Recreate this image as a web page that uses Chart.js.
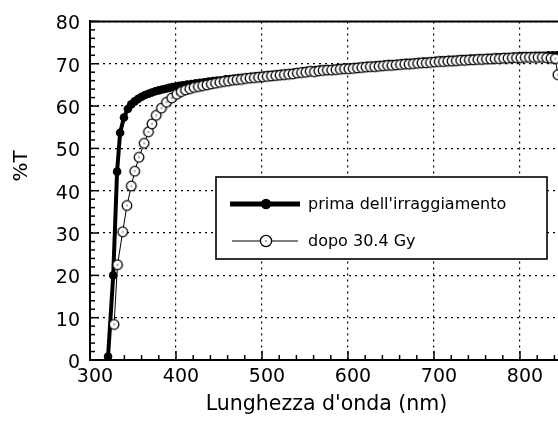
<!DOCTYPE html>
<html>
<head>
<meta charset="utf-8">
<script src="https://cdn.jsdelivr.net/npm/chart.js@4.4.1/dist/chart.umd.min.js"></script>
<style>
  html, body { margin: 0; padding: 0; background: #fff; overflow: hidden; }
  #wrap { width: 558px; height: 421px; overflow: hidden; }
</style>
</head>
<body>
<div id="wrap"><canvas id="spectrum" width="570" height="421"></canvas></div>
<script>
// axis ticks
const xTicks = [300, 400, 500, 600, 700, 800];
const yTicks = [0, 10, 20, 30, 40, 50, 60, 70, 80];
const seriesNames = ["prima dell'irraggiamento", "dopo 30.4 Gy"];

// transmittance before irradiation
const primaNm = [321, 327, 331.5, 335, 339.5, 344, 348, 352, 356, 360, 364, 368, 372, 376, 380, 384, 388, 392, 396, 400, 404, 408,
  413, 418, 423, 428, 433, 438, 443, 448, 453, 458, 463, 468, 473, 478, 483, 488, 493, 498,
  503, 508, 513, 518, 523, 528, 533, 538, 543, 548, 553, 558, 563, 568, 573, 578, 583, 588, 593, 598,
  603, 608, 613, 618, 623, 628, 633, 638, 643, 648, 653, 658, 663, 668, 673, 678, 683, 688, 693, 698,
  703, 708, 713, 718, 723, 728, 733, 738, 743, 748, 753, 758, 763, 768, 773, 778, 783, 788, 793, 798,
  803, 808, 813, 818, 823, 828, 833, 838, 843, 848];
const primaT = [0.8, 20, 44.5, 53.7, 57.3, 59.3, 60.4, 61.1, 61.7, 62.2, 62.6, 62.9, 63.2, 63.5, 63.7, 63.9, 64.1, 64.3, 64.5, 64.6, 64.8, 64.9,
  65.1, 65.2, 65.4, 65.5, 65.6, 65.8, 65.9, 66.0, 66.1, 66.3, 66.4, 66.5, 66.6, 66.7, 66.8, 66.9, 67.0, 67.1,
  67.2, 67.3, 67.4, 67.5, 67.6, 67.7, 67.8, 67.9, 68.0, 68.2, 68.3, 68.4, 68.5, 68.6, 68.7, 68.7, 68.8, 68.9, 69.0, 69.1,
  69.1, 69.2, 69.3, 69.4, 69.5, 69.5, 69.6, 69.7, 69.8, 69.9, 69.9, 70.0, 70.1, 70.2, 70.2, 70.3, 70.4, 70.5, 70.5, 70.6,
  70.7, 70.8, 70.8, 70.9, 70.9, 71.0, 71.1, 71.1, 71.2, 71.2, 71.3, 71.3, 71.4, 71.4, 71.5, 71.5, 71.6, 71.6, 71.7, 71.7,
  71.8, 71.8, 71.8, 71.9, 71.9, 71.9, 72.0, 72.0, 72.0, 72.1];

// transmittance after 30.4 Gy
const dopoNm = [328, 332, 338, 343, 348, 352, 357, 363, 368, 372, 377, 383, 389, 395, 401, 406,
  411, 416, 421, 426, 431, 436, 441, 446, 451, 456, 461, 466, 471, 476, 481, 486, 491, 496,
  501, 506, 511, 516, 521, 526, 531, 536, 541, 546, 551, 556, 561, 566, 571, 576, 581, 586, 591, 596,
  601, 606, 611, 616, 621, 626, 631, 636, 641, 646, 651, 656, 661, 666, 671, 676, 681, 686, 691, 696,
  701, 706, 711, 716, 721, 726, 731, 736, 741, 746, 751, 756, 761, 766, 771, 776, 781, 786, 791, 796,
  801, 806, 811, 816, 821, 826, 831, 836, 841, 844];
const dopoT = [8.4, 22.5, 30.3, 36.5, 41.1, 44.6, 47.9, 51.2, 53.9, 55.8, 57.8, 59.5, 60.9, 61.9, 62.8, 63.4,
  63.8, 64.1, 64.4, 64.6, 64.8, 65.0, 65.2, 65.4, 65.6, 65.8, 65.9, 66.1, 66.2, 66.3, 66.5, 66.6, 66.7, 66.8,
  66.9, 67.0, 67.1, 67.2, 67.3, 67.4, 67.5, 67.6, 67.8, 67.9, 68.0, 68.2, 68.1, 68.3, 68.4, 68.5, 68.5, 68.6, 68.7, 68.8,
  68.8, 68.9, 69.0, 69.1, 69.2, 69.3, 69.3, 69.4, 69.5, 69.6, 69.6, 69.7, 69.8, 69.9, 69.9, 70.0, 70.1, 70.2, 70.2, 70.3,
  70.4, 70.5, 70.5, 70.6, 70.6, 70.7, 70.8, 70.8, 70.9, 70.9, 71.0, 71.0, 71.1, 71.1, 71.2, 71.2, 71.3, 71.3, 71.4, 71.4,
  71.4, 71.5, 71.5, 71.5, 71.5, 71.5, 71.4, 71.3, 71.2, 67.4];

const FONT = '"DejaVu Sans", sans-serif';

// open circle marker with the small centre dot
function openCircle(r) {
  const c = document.createElement('canvas');
  const s = Math.ceil(r * 2 + 4);
  c.width = s; c.height = s;
  const g = c.getContext('2d');
  g.beginPath();
  g.arc(s / 2, s / 2, r, 0, Math.PI * 2);
  g.fillStyle = '#fff';
  g.fill();
  g.lineWidth = 1.3;
  g.strokeStyle = '#000';
  g.stroke();
  g.beginPath();
  g.arc(s / 2, s / 2, 0.8, 0, Math.PI * 2);
  g.fillStyle = '#444';
  g.fill();
  return c;
}
const openMarker = openCircle(4.8);
const openMarkerBig = openCircle(5.6);

function toPoints(xs, ys) {
  return xs.map((v, i) => ({ x: v, y: ys[i] }));
}

// inward tick marks, top frame line and the rotated y title
const frame = {
  id: 'frame',
  beforeDatasetsDraw(chart) {
    const { ctx, chartArea: a, scales: { x, y } } = chart;
    ctx.save();
    ctx.strokeStyle = '#000';
    ctx.lineWidth = 2;
    ctx.beginPath();
    ctx.moveTo(a.left, a.top);
    ctx.lineTo(a.right, a.top);
    ctx.stroke();
    ctx.lineWidth = 1.5;
    for (let v = 0; v <= 80; v += 2) {
      const py = y.getPixelForValue(v);
      const len = v % 10 === 0 ? 9 : 5;
      ctx.beginPath();
      ctx.moveTo(a.left, py);
      ctx.lineTo(a.left + len, py);
      ctx.stroke();
    }
    for (let v = 300; v <= 840; v += 20) {
      const px = x.getPixelForValue(v);
      const len = v % 100 === 0 ? 9 : 5;
      ctx.beginPath();
      ctx.moveTo(px, a.bottom);
      ctx.lineTo(px, a.bottom - len);
      ctx.stroke();
    }
    ctx.translate(22, 166);
    ctx.rotate(-Math.PI / 2);
    ctx.fillStyle = '#000';
    ctx.font = '20px ' + FONT;
    ctx.textAlign = 'center';
    ctx.textBaseline = 'middle';
    ctx.fillText('%T', 0, 0);
    ctx.restore();
  }
};

// boxed legend inside the plot
const legendBox = {
  id: 'legendBox',
  afterDatasetsDraw(chart) {
    const ctx = chart.ctx;
    const left = 216, top = 177, right = 547, bottom = 259;
    ctx.save();
    ctx.fillStyle = '#fff';
    ctx.fillRect(left, top, right - left, bottom - top);
    ctx.strokeStyle = '#000';
    ctx.lineWidth = 1.6;
    ctx.strokeRect(left, top, right - left, bottom - top);

    const rows = [204, 241];
    // row 1: thick line, filled dot
    ctx.lineWidth = 5;
    ctx.beginPath();
    ctx.moveTo(230, rows[0]);
    ctx.lineTo(300, rows[0]);
    ctx.stroke();
    ctx.beginPath();
    ctx.arc(266, rows[0], 5.2, 0, Math.PI * 2);
    ctx.fillStyle = '#000';
    ctx.fill();
    // row 2: thin line, open circle
    ctx.lineWidth = 1.2;
    ctx.beginPath();
    ctx.moveTo(232, rows[1]);
    ctx.lineTo(298, rows[1]);
    ctx.stroke();
    ctx.drawImage(openMarkerBig, 266 - openMarkerBig.width / 2, rows[1] - openMarkerBig.height / 2);

    ctx.fillStyle = '#000';
    ctx.font = '16px ' + FONT;
    ctx.textAlign = 'left';
    ctx.textBaseline = 'middle';
    ctx.fillText(seriesNames[0], 308, rows[0] + 1);
    ctx.fillText(seriesNames[1], 308, rows[1] + 1);
    ctx.restore();
  }
};

new Chart(document.getElementById('spectrum'), {
  type: 'line',
  data: {
    datasets: [
      {
        label: seriesNames[1],
        data: toPoints(dopoNm, dopoT),
        borderColor: '#000',
        borderWidth: 1,
        pointStyle: openMarker,
        order: 0
      },
      {
        label: seriesNames[0],
        data: toPoints(primaNm, primaT),
        borderColor: '#000',
        borderWidth: 4,
        pointStyle: 'circle',
        pointRadius: 4.3,
        pointBackgroundColor: '#000',
        pointBorderWidth: 0,
        order: 1
      }
    ]
  },
  options: {
    responsive: false,
    animation: false,
    layout: { padding: { top: 15, right: 7, left: 0, bottom: 0 } },
    elements: { line: { tension: 0 } },
    plugins: { legend: { display: false }, tooltip: { enabled: false } },
    scales: {
      x: {
        type: 'linear',
        min: 300,
        max: 850,
        afterBuildTicks: s => { s.ticks = xTicks.map(v => ({ value: v })); },
        afterFit: s => { s.height = 61; },
        grid: { color: '#000', lineWidth: 1.2, drawTicks: false },
        border: { color: '#000', width: 2, dash: [2, 4] },
        ticks: { color: '#000', font: { family: FONT, size: 19 }, padding: 6, labelOffset: 5, maxRotation: 0 },
        title: {
          display: true,
          text: "Lunghezza d'onda (nm)",
          color: '#000',
          font: { family: FONT, size: 20.5 },
          padding: { top: 0, bottom: 4 }
        }
      },
      y: {
        min: 0,
        max: 80,
        afterBuildTicks: s => { s.ticks = yTicks.map(v => ({ value: v })); },
        afterFit: s => { s.width = 90; },
        grid: { color: '#000', lineWidth: 1.2, drawTicks: false },
        border: { color: '#000', width: 2, dash: [2, 4] },
        ticks: { color: '#000', font: { family: FONT, size: 19 }, padding: 10, labelOffset: 3 }
      }
    }
  },
  plugins: [frame, legendBox]
});
</script>
</body>
</html>
